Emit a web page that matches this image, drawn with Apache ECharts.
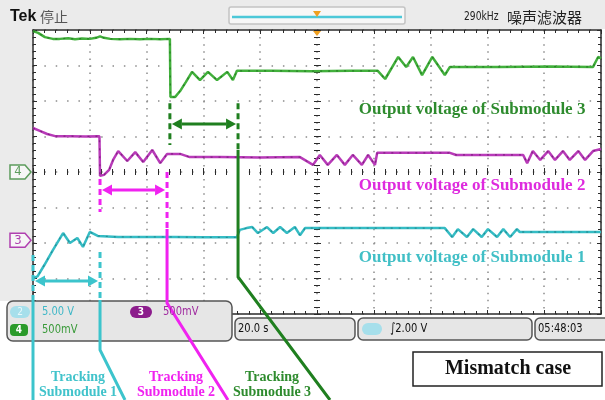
<!DOCTYPE html>
<html>
<head>
<meta charset="utf-8">
<title>Mismatch case</title>
<script src="https://cdn.jsdelivr.net/npm/echarts@6/dist/echarts.min.js"></script>
<style>
  html, body { margin: 0; padding: 0; background: #fff; }
  #chart { width: 605px; height: 400px; }
</style>
</head>
<body>
<div id="chart"></div>
<script>
// scope traces as [time div, level div]
const ch4Sub3 = [[0,7.97],[0.09,7.92],[0.21,7.80],[0.35,7.75],[0.47,7.75],[0.62,7.77],[0.74,7.74],[0.86,7.76],[1.0,7.75],[1.11,7.78],[1.18,7.82],[1.25,7.78],[1.36,7.75],[1.53,7.74],[1.71,7.75],[1.88,7.74],[2.06,7.75],[2.24,7.74],[2.41,7.75],[2.42,6.11],[2.5,6.11],[2.59,6.28],[2.69,6.53],[2.8,6.82],[2.94,6.59],[3.08,6.82],[3.24,6.59],[3.42,6.82],[3.52,6.59],[3.59,6.85],[4.2,6.85],[4.9,6.84],[5.6,6.85],[6.07,6.85],[6.2,6.62],[6.43,7.24],[6.57,6.96],[6.69,7.24],[6.85,6.73],[7.03,7.24],[7.25,6.73],[7.34,6.96],[8.2,6.96],[9.1,6.97],[9.86,6.96],[9.95,7.24],[10,7.2]];
const ch3Sub2 = [[0,5.24],[0.12,5.16],[0.25,5.07],[0.39,5.01],[0.65,5.01],[0.92,5.0],[1.17,5.01],[1.18,3.89],[1.25,3.92],[1.34,4.06],[1.41,4.34],[1.5,4.59],[1.66,4.31],[1.8,4.56],[1.94,4.28],[2.1,4.62],[2.24,4.25],[2.36,4.51],[2.59,4.51],[2.76,4.42],[3.29,4.42],[4.0,4.41],[4.7,4.42],[4.93,4.2],[5.05,4.48],[5.19,4.2],[5.35,4.48],[5.49,4.2],[5.63,4.48],[5.79,4.2],[5.9,4.48],[6.02,4.2],[6.06,4.54],[7.34,4.54],[7.45,4.48],[8.63,4.48],[8.7,4.25],[8.8,4.59],[8.93,4.34],[9.07,4.59],[9.19,4.34],[9.33,4.59],[9.45,4.34],[9.6,4.59],[9.72,4.34],[9.86,4.59],[10,4.65]];
const ch2Sub1 = [[0,1.01],[0.08,1.06],[0.2,1.38],[0.35,1.8],[0.53,2.28],[0.65,2.0],[0.78,2.14],[0.88,1.89],[1.0,2.31],[1.14,2.2],[1.5,2.17],[2.0,2.17],[2.5,2.17],[3.0,2.16],[3.59,2.16],[3.64,2.37],[3.76,2.42],[3.86,2.45],[3.96,2.28],[4.12,2.45],[4.23,2.28],[4.35,2.45],[4.47,2.28],[4.61,2.45],[4.7,2.22],[4.79,2.42],[5.5,2.42],[6.5,2.42],[7.25,2.42],[7.38,2.17],[7.48,2.39],[7.64,2.17],[7.75,2.39],[7.9,2.17],[8.01,2.39],[8.17,2.17],[8.28,2.39],[8.4,2.17],[8.52,2.39],[8.57,2.31],[9.3,2.31],[10,2.31]];

// tracking windows (time div) and the level of each double arrow (div)
const trackFrom = [0, 1.18, 2.41];
const trackTo = [1.18, 2.36, 3.61];
const arrowAt = [0.93, 3.49, 5.35];
const dashTop = [1.66, 3.8, 5.94];

const subNames = ['Submodule 1', 'Submodule 2', 'Submodule 3'];
const noteColors = ['#3cc4cc', '#f022f0', '#1f7f1f'];
const labelColors = ['#41c3cb', '#f022f0', '#2e8b2e'];
const captionColors = ['#41bfc6', '#de2ade', '#2e8b2e'];
const traceColors = ['#35bcc4', '#b83ab8', '#42b03c'];
const dotColors = ['#1d7f86', '#6e186e', '#1e6e1e'];
const captionAt = [[7.73, 1.58], [7.73, 3.63], [7.73, 5.75]];
const chanTags = ['4', '3'];
const chanLevels = [4, 2.08];
const chanColors = ['#5c9c5c', '#b040b0'];

const scopeFont = '"Liberation Sans Narrow", "DejaVu Sans Condensed", "Liberation Sans", sans-serif';
const paperFont = '"Liberation Serif", "Times New Roman", serif';

const chart = echarts.init(document.getElementById('chart'));

const tickLine = { color: '#2b2b2b', width: 1 };
function scaleAxis(max, extra) {
  return Object.assign({
    type: 'value', min: 0, max: max, interval: 1,
    axisLabel: { show: false },
    axisLine: { show: true, onZero: false, lineStyle: { color: '#2b2b2b', width: 1.5 } },
    axisTick: { show: true, inside: true, length: 4, lineStyle: tickLine },
    minorTick: { show: true, splitNumber: 5, length: 3, lineStyle: tickLine },
    splitLine: { show: false },
  }, extra);
}
const noLine = { show: false, onZero: false };
const outTick = { show: true, inside: false, length: 3, lineStyle: tickLine };

const traces = [ch2Sub1, ch3Sub2, ch4Sub3];
const series = [];
traces.forEach((data, i) => {
  series.push({
    type: 'line', data: data, showSymbol: false, z: 3,
    lineStyle: { color: traceColors[i], width: 2.5 },
  });
  // the scope draws its record points as darker dashes along the trace
  series.push({
    type: 'line', data: data, showSymbol: false, z: 4,
    lineStyle: { color: dotColors[i], width: 1.3, type: [2, 6], opacity: 0.7 },
  });
});

chart.setOption({
  animation: false,
  backgroundColor: '#fff',
  grid: { left: 33, top: 30, width: 568, height: 284 },
  xAxis: [
    scaleAxis(10, {
      position: 'bottom',
      splitLine: { show: true, lineStyle: { color: '#8c8c8c', width: 1.5, type: [1.5, 5.6] } },
    }),
    scaleAxis(10, { position: 'top' }),
    scaleAxis(10, { position: 'bottom', offset: -142, axisLine: noLine }),
    scaleAxis(10, { position: 'bottom', offset: -142, axisLine: noLine, axisTick: outTick }),
  ],
  yAxis: [
    scaleAxis(8, {
      position: 'left',
      splitLine: { show: true, lineStyle: { color: '#8c8c8c', width: 1.5, type: [1.5, 9.86] } },
    }),
    scaleAxis(8, { position: 'right' }),
    scaleAxis(8, { position: 'left', offset: -284, axisLine: noLine }),
    scaleAxis(8, { position: 'left', offset: -284, axisLine: noLine, axisTick: outTick }),
  ],
  series: series,
});

const toPx = (x, y) => chart.convertToPixel({ xAxisIndex: 0, yAxisIndex: 0 }, [x, y]);

function text(str, x, y, fill, font, align, z, sx) {
  return {
    type: 'text', z: z || 40, x: x, y: y, scaleX: sx || 1,
    style: { text: str, x: 0, y: 0, fill: fill, font: font, textAlign: align || 'left', textVerticalAlign: 'middle' },
  };
}
const scopeText = (str, x, y, fill, size, align) => text(str, x, y, fill, size + 'px ' + scopeFont, align, 40, 0.85);
function box(x, y, w, h, r, fill, stroke, z) {
  return {
    type: 'rect', z: z || 20,
    shape: { x: x, y: y, width: w, height: h, r: r },
    style: { fill: fill, stroke: stroke, lineWidth: stroke ? 1.5 : 0 },
  };
}
function seg(points, color, dash, z) {
  return {
    type: 'polyline', z: z || 30,
    shape: { points: points },
    style: { stroke: color, lineWidth: 3, lineDash: dash ? [6, 4] : null, fill: null },
  };
}
function arrow(x1, x2, y, color) {
  const h = 10, w = 5.5;
  return [
    { type: 'line', z: 30, shape: { x1: x1 + h, y1: y, x2: x2 - h, y2: y }, style: { stroke: color, lineWidth: 3 } },
    { type: 'polygon', z: 30, shape: { points: [[x1, y], [x1 + h, y - w], [x1 + h, y + w]] }, style: { fill: color } },
    { type: 'polygon', z: 30, shape: { points: [[x2, y], [x2 - h, y - w], [x2 - h, y + w]] }, style: { fill: color } },
  ];
}

const g = [];
// scope frame: grey title bar and left margin
g.push(box(0, 0, 605, 29, 0, '#ebebeb', null, 1));
g.push(box(0, 0, 32, 301, 0, '#ebebeb', null, 1));
g.push(text('Tek', 10, 17, '#111', 'bold 16px "Liberation Sans", sans-serif', 'left', 5));
g.push(text('停止', 40, 17, '#555', '14px "Noto Sans CJK SC", sans-serif', 'left', 5));
g.push(box(229, 7, 176, 17, 2, '#f7f7f7', '#c4c4c4', 5));
g.push({ type: 'line', z: 6, shape: { x1: 232, y1: 17, x2: 402, y2: 17 }, style: { stroke: '#4cc8d8', lineWidth: 2.5 } });
g.push({ type: 'polygon', z: 7, shape: { points: [[313, 11], [321, 11], [317, 17]] }, style: { fill: '#f0a020' } });
g.push({ type: 'polygon', z: 7, shape: { points: [[313, 31], [321, 31], [317, 36]] }, style: { fill: '#f0a020' } });
g.push(scopeText('290kHz', 464, 17, '#222', 12));
g.push(text('噪声滤波器', 507, 17, '#222', '15px "Noto Sans CJK SC", sans-serif', 'left', 5));

// channel ground markers on the left
chanTags.forEach((tag, i) => {
  const y = toPx(0, chanLevels[i])[1];
  g.push({
    type: 'polygon', z: 5,
    shape: { points: [[10, y - 7], [25, y - 7], [31, y], [25, y + 7], [10, y + 7]] },
    style: { fill: '#f6f6f6', stroke: chanColors[i], lineWidth: 1.5 },
  });
  g.push(text(tag, 18, y, chanColors[i], '13px ' + scopeFont, 'center', 6));
});

// readout boxes under the screen
g.push(box(7, 301, 225, 40, 6, '#e6e6e6', '#555'));
g.push(box(10, 306, 20, 12, 6, '#a6dfeb', null, 21));
g.push(text('2', 20, 312, '#e8f8fb', '10px ' + scopeFont, 'center', 22));
g.push(scopeText('5.00 V', 42, 312, '#3fb7c7', 13));
g.push(box(10, 324, 18, 12, 4, '#2a9a2a', null, 21));
g.push(text('4', 19, 330, '#fff', 'bold 10px ' + scopeFont, 'center', 22));
g.push(scopeText('500mV', 42, 330, '#3a9a3a', 13));
g.push(box(130, 306, 22, 12, 6, '#8c1c8c', null, 21));
g.push(text('3', 141, 312, '#fff', 'bold 10px ' + scopeFont, 'center', 22));
g.push(scopeText('500mV', 163, 312, '#a02ca0', 13));
g.push(box(235, 318, 120, 22, 5, '#e6e6e6', '#555'));
g.push(scopeText('20.0 s', 238, 329, '#111', 13));
g.push(box(358, 318, 174, 22, 5, '#e6e6e6', '#555'));
g.push(box(362, 323, 20, 12, 6, '#a6dfeb', null, 21));
g.push(scopeText('∫2.00 V', 390, 329, '#111', 13));
g.push(box(535, 318, 80, 22, 5, '#e6e6e6', '#555'));
g.push(scopeText('05:48:03', 538, 329, '#111', 13));

// caption box
g.push(box(413, 352, 189, 34, 0, '#fff', '#222'));
g.push(text('Mismatch case', 508, 369, '#111', 'bold 20px ' + paperFont, 'center', 41));

// "Output voltage" captions
captionAt.forEach((p, i) => {
  const q = toPx(p[0], p[1]);
  g.push(text('Output voltage of ' + subNames[i], q[0], q[1], captionColors[i], 'bold 17px ' + paperFont, 'center'));
});

// tracking windows: dashed markers, double arrows, leaders to the labels
const xs = trackFrom.map((v, i) => [toPx(v, 0)[0], toPx(trackTo[i], 0)[0]]);
const ay = arrowAt.map((v) => toPx(0, v)[1]);
const dashY = dashTop.map((v) => toPx(0, v)[1]);

// submodule 1 (cyan)
g.push(seg([[xs[0][0], dashY[0]], [xs[0][0], 300]], noteColors[0], true));
g.push(seg([[xs[0][0], 300], [xs[0][0], 400]], noteColors[0], false));
g.push(seg([[xs[0][1], dashY[0] - 3], [xs[0][1], 300]], noteColors[0], true));
g.push(seg([[xs[0][1], 300], [xs[0][1], 350], [125, 400]], noteColors[0], false));
g.push(...arrow(xs[0][0] + 2, xs[0][1] - 2, ay[0], noteColors[0]));

// submodule 2 (magenta)
g.push(seg([[xs[1][0], dashY[1]], [xs[1][0], toPx(0, 2.87)[1]]], noteColors[1], true));
g.push(seg([[xs[1][1], toPx(0, 4.0)[1]], [xs[1][1], 229]], noteColors[1], true));
g.push(seg([[xs[1][1], 229], [xs[1][1], 303], [228, 400]], noteColors[1], false));
g.push(...arrow(xs[1][0] + 2, xs[1][1] - 2, ay[1], noteColors[1]));

// submodule 3 (green)
g.push(seg([[xs[2][0], dashY[2]], [xs[2][0], toPx(0, 4.76)[1]]], noteColors[2], true));
g.push(seg([[xs[2][1], dashY[2]], [xs[2][1], 150]], noteColors[2], true));
g.push(seg([[xs[2][1], 150], [xs[2][1], 277], [330, 400]], noteColors[2], false));
g.push(...arrow(xs[2][0] + 2, xs[2][1] - 2, ay[2], noteColors[2]));

const labelX = [78, 176, 272];
labelX.forEach((x, i) => {
  g.push(text('Tracking', x, 377, labelColors[i], 'bold 14px ' + paperFont, 'center'));
  g.push(text(subNames[i], x, 392, labelColors[i], 'bold 14px ' + paperFont, 'center'));
});

chart.setOption({ graphic: { elements: g } });
</script>
</body>
</html>
